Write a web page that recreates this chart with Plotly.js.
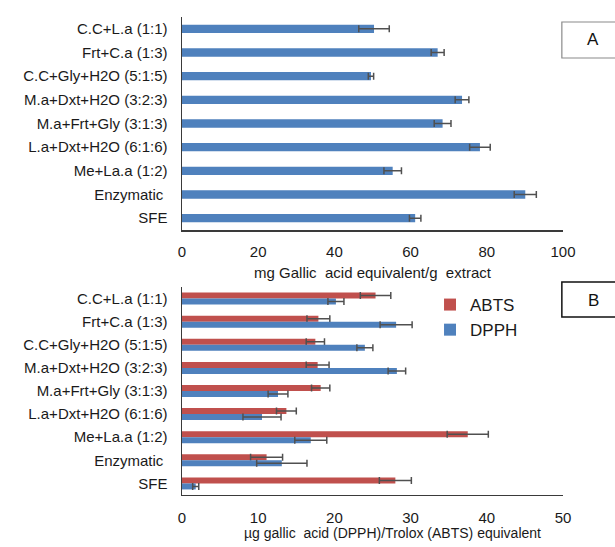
<!DOCTYPE html>
<html>
<head>
<meta charset="utf-8">
<script src="https://cdn.plot.ly/plotly-3.0.1.min.js"></script>
<style>html,body{margin:0;padding:0;background:#fff;}#chart{width:615px;height:547px;}</style>
</head>
<body>
<div id="chart"></div>
<script>
const categories = ["C.C+L.a (1:1)", "Frt+C.a (1:3)", "C.C+Gly+H2O (5:1:5)", "M.a+Dxt+H2O (3:2:3)",
  "M.a+Frt+Gly (3:1:3)", "L.a+Dxt+H2O (6:1:6)", "Me+La.a (1:2)", "Enzymatic ", "SFE"];

// Panel A: total phenolic content (mg GAE/g extract)
const tpcValues = [50.4, 67.1, 49.6, 73.5, 68.4, 78.2, 55.3, 90.1, 61.2];
const tpcErrors = [4.0, 1.7, 0.7, 1.8, 2.2, 2.7, 2.3, 2.9, 1.5];

// Panel B: antioxidant activity
const abtsValues = [25.4, 17.9, 17.5, 17.8, 18.2, 13.7, 37.5, 11.1, 28.0];
const abtsErrors = [2.0, 1.5, 1.2, 1.5, 1.2, 1.3, 2.7, 2.1, 2.1];
const dpphValues = [20.2, 28.1, 24.0, 28.2, 12.6, 10.5, 16.9, 13.1, 1.8];
const dpphErrors = [1.05, 2.1, 1.05, 1.15, 1.3, 2.5, 2.1, 3.3, 0.4];

const topTicks = [0, 20, 40, 60, 80, 100];
const bottomTicks = [0, 10, 20, 30, 40, 50];

const BLUE = "#4F81BD", RED = "#C0504D", ERR = "#505050";
const FONT = "Liberation Sans, Arial, sans-serif";
const TXT = "#1a1a1a";

function errBar(arr) {
  return {type: "data", array: arr, visible: true, color: ERR, thickness: 1.5, width: 3.5};
}

const traces = [
  {type: "bar", orientation: "h", x: tpcValues, y: categories, xaxis: "x", yaxis: "y",
   marker: {color: BLUE}, width: 0.35, error_x: errBar(tpcErrors), showlegend: false, name: "TPC"},
  {type: "bar", orientation: "h", x: abtsValues, y: categories, xaxis: "x2", yaxis: "y2",
   marker: {color: RED}, width: 0.26, offset: -0.26, error_x: errBar(abtsErrors), name: "ABTS"},
  {type: "bar", orientation: "h", x: dpphValues, y: categories, xaxis: "x2", yaxis: "y2",
   marker: {color: BLUE}, width: 0.26, offset: 0, error_x: errBar(dpphErrors), name: "DPPH"}
];

const axisCommon = {showgrid: false, zeroline: false, showline: true, linecolor: "#3a3a3a", linewidth: 1.5,
  ticks: "", tickfont: {family: FONT, size: 15, color: TXT}};

const layout = {
  width: 615, height: 547,
  margin: {l: 182, r: 52, t: 0, b: 0},
  paper_bgcolor: "#fff", plot_bgcolor: "#fff",
  barmode: "overlay",
  font: {family: FONT, size: 15, color: TXT},
  xaxis: Object.assign({}, axisCommon, {domain: [0, 1], anchor: "y", range: [0, 100], tickvals: topTicks,
    ticklabelstandoff: 7,
    title: {text: "mg Gallic  acid equivalent/g  extract", font: {family: FONT, size: 15, color: TXT}, standoff: 9}}),
  yaxis: Object.assign({}, axisCommon, {domain: [0.5795, 0.9689], anchor: "x", autorange: "reversed",
    type: "category", ticklabelstandoff: 10}),
  xaxis2: Object.assign({}, axisCommon, {domain: [0, 1], anchor: "y2", range: [0, 50], tickvals: bottomTicks,
    ticklabelstandoff: 9}),
  yaxis2: Object.assign({}, axisCommon, {domain: [0.0951, 0.4753], anchor: "x2", autorange: "reversed",
    type: "category", ticklabelstandoff: 10}),
  legend: {x: 0.651, y: 0.4753, xanchor: "left", yanchor: "top", font: {family: FONT, size: 17, color: TXT},
    bgcolor: "rgba(0,0,0,0)", itemwidth: 30},
  shapes: [
    {type: "rect", xref: "paper", yref: "paper", x0: 0.997, x1: 1.2, y0: 1 - 58/547, y1: 1 - 22/547,
     line: {color: "#8a8a8a", width: 1.2}, fillcolor: "rgba(0,0,0,0)"},
    {type: "rect", xref: "paper", yref: "paper", x0: 0.997, x1: 1.2, y0: 1 - 317/547, y1: 1 - 282/547,
     line: {color: "#111", width: 1.5}, fillcolor: "rgba(0,0,0,0)"}
  ],
  annotations: [
    {text: "A", xref: "paper", yref: "paper", x: (593-182)/381, y: 1 - 40/547, showarrow: false,
     xanchor: "center", yanchor: "middle", font: {family: FONT, size: 17, color: "#111"}},
    {text: "B", xref: "paper", yref: "paper", x: (593-182)/381, y: 1 - 300/547, showarrow: false,
     xanchor: "center", yanchor: "middle", font: {family: FONT, size: 17, color: "#111"}},
    {text: "µg gallic  acid (DPPH)/Trolox (ABTS) equivalent", xref: "paper", yref: "paper",
     x: (392-182)/381, y: 1 - 533/547, showarrow: false, xanchor: "center", yanchor: "middle",
     font: {family: FONT, size: 14, color: TXT}}
  ]
};

Plotly.newPlot("chart", traces, layout, {displayModeBar: false, staticPlot: true});
</script>
</body>
</html>
